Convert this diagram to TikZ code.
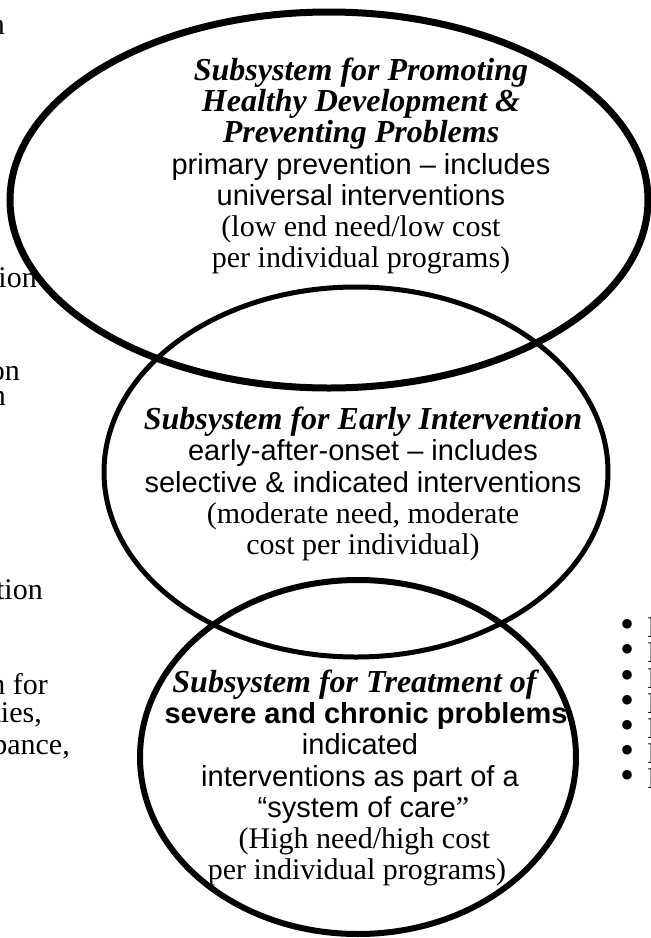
\documentclass[tikz,border=0pt]{standalone}
\usepackage{fontspec}
\setmainfont{Liberation Serif}
\newfontfamily\arialfont{Liberation Sans}
\usetikzlibrary{positioning}
\tikzstyle{ring}=[draw, line width=5pt]
\tikzstyle{blurb}=[align=center, inner sep=0pt, font=\fontsize{30}{31.3}\selectfont]
\tikzstyle{cutoff}=[anchor=base east, inner sep=0pt, font=\fontsize{30}{30}\selectfont]
\newcommand{\headln}[1]{{\fontsize{32}{31.3}\selectfont\bfseries\itshape #1}}
\newcommand{\sansln}[1]{{\arialfont\fontsize{29}{31.3}\selectfont #1}}

\begin{document}
\begin{tikzpicture}[x=1pt,y=-1pt]
  \useasboundingbox (0,0) rectangle (651,938);
  % the three subsystems
  \draw[ring, line width=7pt] (329,200) ellipse [x radius=319pt, y radius=188pt];
  \draw[ring] (356,472) ellipse [x radius=252pt, y radius=185pt];
  \draw[ring, line width=6pt] (358,757) ellipse [x radius=218pt, y radius=177pt];

  \node[blurb] (promote) at (361,166) {\headln{Subsystem for Promoting}\\
    \headln{Healthy Development \&}\\
    \headln{Preventing Problems}\\
    \sansln{primary prevention – includes}\\
    \sansln{universal interventions}\\
    (low end need/low cost\\
    per individual programs)};
  \node[blurb] (early) at (363,484) {\headln{Subsystem for Early Intervention}\\
    \sansln{early-after-onset – includes}\\
    \sansln{selective \& indicated interventions}\\
    (moderate need, moderate\\
    cost per individual)};
  \node[blurb] (treat) at (360,778) {\headln{Subsystem for Treatment of}\hspace*{11pt}\\
    \hspace*{12pt}{\arialfont\bfseries\fontsize{29}{31.3}\selectfont severe and chronic problems}\\
    \sansln{indicated}\\
    \sansln{interventions as part of a}\\
    \hspace*{7pt}\sansln{“system of care}”\\
    \hspace*{9pt}(High need/high cost\\
    per individual programs)\hspace*{6pt}};

  % text cut off at the left edge
  \node[cutoff] (lt1) at (5,34) {n};
  \node[cutoff] (lt2) at (37,287) {tion};
  \node[cutoff] (lt3) at (20,380) {on};
  \node[cutoff] (lt4) at (6,405) {n};
  \node[cutoff] (lt5) at (43,599) {tion};
  \node[cutoff] (lt6) at (48,694) {n for};
  \node[cutoff] (lt7) at (42,722) {ties,};
  \node[cutoff] (lt8) at (70,754) {bance,};

  % list cut off at the right edge
  \foreach \y [count=\i] in {628,653,679,704,729,754,779}{
    \node[inner sep=0pt, font=\fontsize{40}{40}\selectfont] (dot\i) at (627,\y) {\textbullet};
    \node[inner sep=0pt, anchor=west, font=\fontsize{30}{30}\selectfont] (item\i) at (647,\y) {I};
  }
\end{tikzpicture}
\end{document}
